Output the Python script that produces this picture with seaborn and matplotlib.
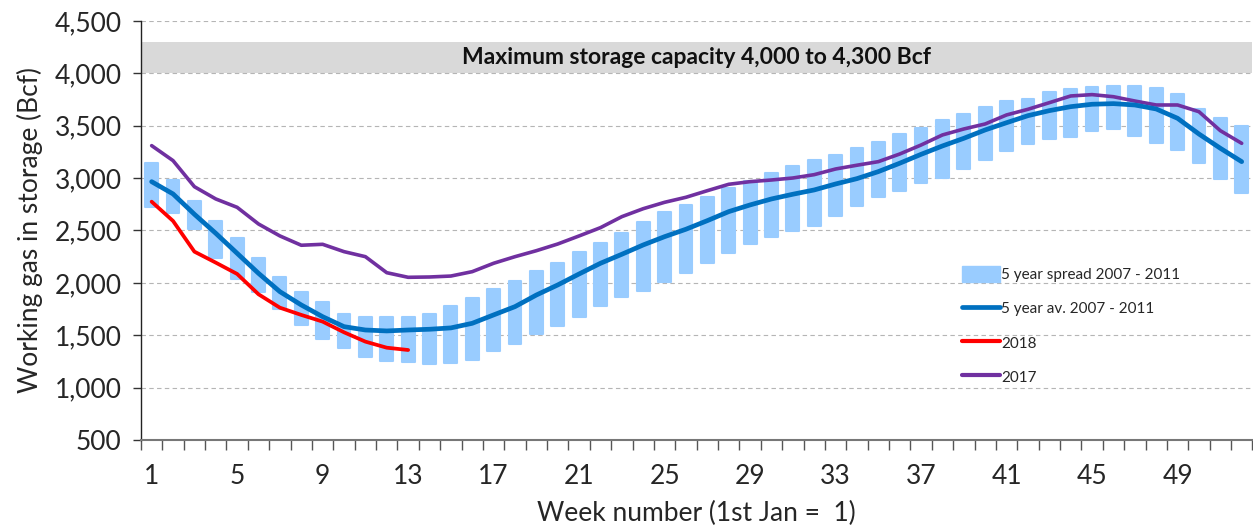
import numpy as np
import matplotlib
matplotlib.use("Agg")
import matplotlib.pyplot as plt
from matplotlib.patches import Patch
from matplotlib.lines import Line2D
from matplotlib.ticker import FuncFormatter, FixedLocator
import seaborn as sns

# ---- data ----
weeks = np.arange(1, 53)

spread_top = [3142, 2982, 2782, 2594, 2429, 2240, 2053, 1916, 1815, 1703,
              1671, 1671, 1671, 1700, 1779, 1853, 1939, 2018, 2114, 2187,
              2292, 2381, 2479, 2581, 2674, 2746, 2817, 2909, 2976, 3046,
              3116, 3170, 3225, 3285, 3348, 3418, 3482, 3552, 3612, 3682,
              3739, 3758, 3819, 3854, 3867, 3880, 3877, 3860, 3800, 3657,
              3577, 3501]
spread_bottom = [2727, 2670, 2517, 2240, 2040, 1916, 1748, 1598, 1461, 1376,
                 1290, 1257, 1240, 1225, 1238, 1261, 1347, 1414, 1509, 1591,
                 1677, 1782, 1865, 1920, 2008, 2097, 2187, 2288, 2374, 2441,
                 2495, 2546, 2635, 2734, 2823, 2880, 2951, 2998, 3087, 3173,
                 3256, 3323, 3371, 3390, 3450, 3466, 3402, 3335, 3269, 3147,
                 2989, 2855]
avg_5yr = [2966, 2849, 2655, 2473, 2282, 2091, 1916, 1789, 1677, 1582,
           1550, 1541, 1550, 1557, 1570, 1614, 1694, 1773, 1884, 1980,
           2085, 2187, 2273, 2362, 2441, 2512, 2594, 2680, 2744, 2801,
           2846, 2887, 2944, 2995, 3062, 3142, 3227, 3307, 3380, 3460,
           3529, 3596, 3644, 3682, 3705, 3711, 3698, 3660, 3571, 3421,
           3285, 3157]
y2017 = [3310, 3167, 2918, 2801, 2721, 2562, 2448, 2359, 2368, 2298,
         2250, 2097, 2053, 2056, 2065, 2107, 2187, 2250, 2307, 2371,
         2448, 2527, 2632, 2708, 2769, 2817, 2880, 2941, 2966, 2982,
         3001, 3033, 3087, 3123, 3157, 3230, 3316, 3412, 3469, 3517,
         3603, 3657, 3720, 3784, 3797, 3777, 3736, 3698, 3698, 3634,
         3453, 3332]
weeks_2018 = np.arange(1, 14)
y2018 = [2775, 2591, 2298, 2193, 2085, 1891, 1763, 1694, 1630, 1528,
         1439, 1381, 1359]

label_weeks = list(range(1, 53, 4))
cap_low, cap_high = 4000, 4300

c_spread = "#99CCFF"
c_avg = "#0070C0"
c_2018 = "#FF0000"
c_2017 = "#7030A0"

sns.set_style("white")
plt.rcParams["font.family"] = ["Lato", "DejaVu Sans"]

fig = plt.figure(figsize=(12.53, 5.31), dpi=100)
ax = fig.add_axes([0.1125, 0.1714, 0.8870, 0.7891])

# capacity band
ax.axhspan(cap_low, cap_high, color="#D9D9D9", zorder=0.5, lw=0)
ax.text(26.5, (cap_low + cap_high) / 2 + 5, "Maximum storage capacity 4,000 to 4,300 Bcf",
        ha="center", va="center", fontsize=16.5, fontweight="bold", color="#111111",
        zorder=1)

# spread bars
heights = np.array(spread_top) - np.array(spread_bottom)
ax.bar(weeks, heights, bottom=spread_bottom, width=0.6, color=c_spread,
       edgecolor=c_spread, linewidth=1.5, joinstyle="round", zorder=2)

# lines
sns.lineplot(x=weeks, y=avg_5yr, ax=ax, color=c_avg, lw=3.4, zorder=4)
sns.lineplot(x=weeks_2018, y=y2018, ax=ax, color=c_2018, lw=2.7, zorder=5)
sns.lineplot(x=weeks, y=y2017, ax=ax, color=c_2017, lw=2.6, zorder=3)

ax.set_xlim(0.5, 52.5)
ax.set_ylim(500, 4500)
ax.set_yticks(np.arange(500, 4501, 500))
ax.yaxis.set_major_formatter(FuncFormatter(lambda v, p: f"{int(v):,}"))
ax.set_xticks(label_weeks)
ax.set_xticklabels([str(w) for w in label_weeks])
ax.xaxis.set_minor_locator(FixedLocator(np.arange(0.5, 53, 1)))
ax.tick_params(axis="x", which="major", length=0, labelsize=19, pad=17)
ax.tick_params(axis="x", which="minor", length=7, width=1, color="#555555",
               direction="out", bottom=True)
ax.tick_params(axis="y", which="major", length=6, width=1, color="#333333",
               direction="out", left=True, labelsize=19, pad=8)

for v in range(1000, 4501, 500):
    ax.axhline(v, color="#B5B5B5", lw=0.8, ls=(0, (4, 3)), zorder=1)

for s in ["top", "right"]:
    ax.spines[s].set_visible(False)
ax.spines["left"].set_color("#222222")
ax.spines["bottom"].set_color("#777777")
ax.spines["left"].set_linewidth(1)
ax.spines["bottom"].set_linewidth(1.5)

ax.set_ylabel("Working gas in storage (Bcf)", fontsize=19, labelpad=8)
ax.set_xlabel("Week number (1st Jan =  1)", fontsize=19, labelpad=9)

handles = [
    Patch(facecolor=c_spread, edgecolor=c_spread),
    Line2D([], [], color=c_avg, lw=3.4),
    Line2D([], [], color=c_2018, lw=3.0),
    Line2D([], [], color=c_2017, lw=3.0),
]
labels = ["5 year spread 2007 - 2011", "5 year av. 2007 - 2011", "2018", "2017"]
ax.legend(handles, labels, loc="upper left", bbox_to_anchor=(0.733, 0.43),
          frameon=False, fontsize=11, handlelength=2.5, handleheight=1.2,
          handletextpad=0.1, labelspacing=1.2, borderaxespad=0)

fig.savefig("out.png", dpi=100)
